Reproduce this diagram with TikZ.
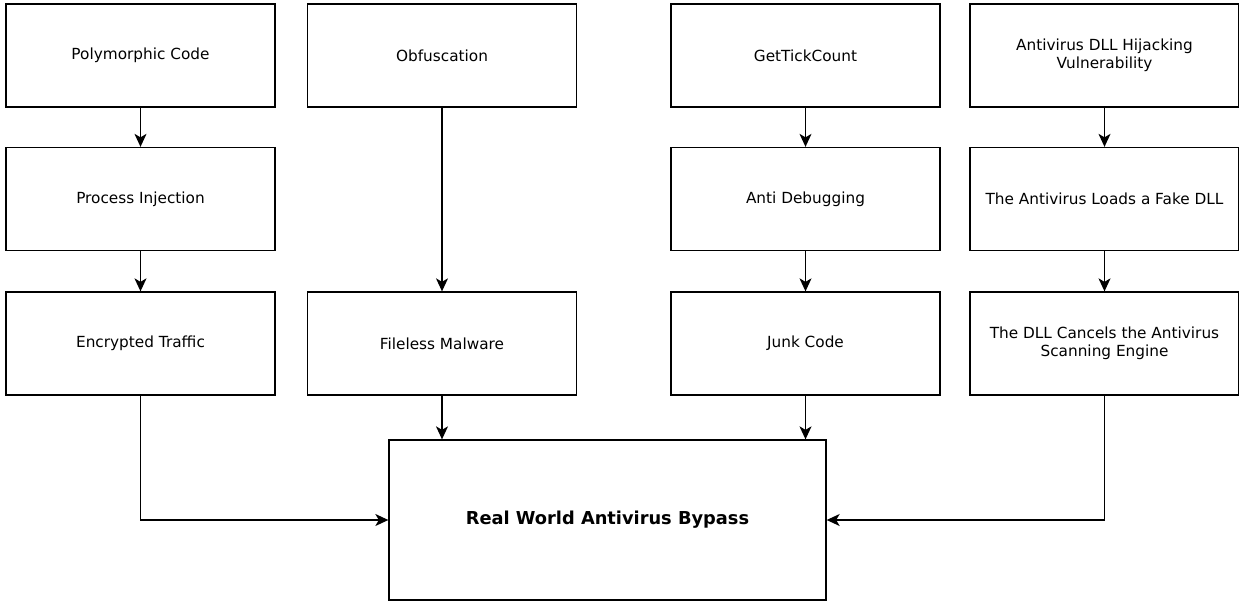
\documentclass[tikz,border=0pt]{standalone}
\usepackage{fontspec}
\setmainfont{DejaVu Sans}
\usetikzlibrary{arrows.meta}

\tikzset{
  block/.style={draw=black,line width=1.3pt,fill=white,minimum width=269pt,minimum height=103pt,
    align=center,inner sep=2pt,font=\fontsize{15.3}{18}\selectfont},
  flow/.style={draw=black,line width=1.3pt,-{Stealth[length=13pt,width=12pt,inset=3.5pt]}},
}

\begin{document}
\begin{tikzpicture}[x=1pt,y=-1pt]
\useasboundingbox (0,0) rectangle (1239,602);
% four columns of steps
\node[block] (poly) at (140.5,55.5) {Polymorphic Code};
\node[block] (inject) at (140.5,199) {Process Injection};
\node[block] (traffic) at (140.5,343.5) {Encrypted Traffic};
\node[block] (obfusc) at (442,55.5) {Obfuscation};
\node[block] (fileless) at (442,343.5) {Fileless Malware};
\node[block] (tick) at (805.5,55.5) {GetTickCount};
\node[block] (antidbg) at (805.5,199) {Anti Debugging};
\node[block] (junk) at (805.5,343.5) {Junk Code};
\node[block] (dllvuln) at (1104.5,55.5) {Antivirus DLL Hijacking\\Vulnerability};
\node[block] (fakedll) at (1104.5,199) {The Antivirus Loads a Fake DLL};
\node[block] (cancel) at (1104.5,343.5) {The DLL Cancels the Antivirus\\Scanning Engine};
% result box
\node[block,minimum width=437pt,minimum height=160pt,font=\fontsize{17.8}{21}\selectfont\bfseries] (bypass) at (607.5,520) {Real World Antivirus Bypass};

\draw[flow] (poly) -- (inject);
\draw[flow] (inject) -- (traffic);
\draw[flow] (obfusc) -- (fileless);
\draw[flow] (tick) -- (antidbg);
\draw[flow] (antidbg) -- (junk);
\draw[flow] (dllvuln) -- (fakedll);
\draw[flow] (fakedll) -- (cancel);
\draw[flow] (traffic.south) |- (bypass.west);
\draw[flow] (fileless.south) -- (fileless.south |- bypass.north);
\draw[flow] (junk.south) -- (junk.south |- bypass.north);
\draw[flow] (cancel.south) |- (bypass.east);
\end{tikzpicture}
\end{document}
